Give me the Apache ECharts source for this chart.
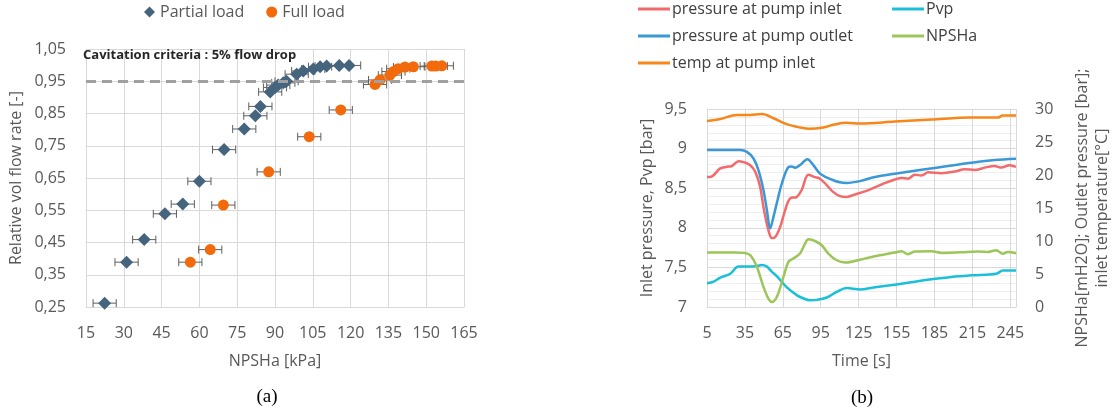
<!DOCTYPE html>
<html>
<head>
<meta charset="utf-8">
<script src="https://cdn.jsdelivr.net/npm/echarts@6/dist/echarts.min.js"></script>
<style>html,body{margin:0;padding:0;background:#fff}#c{width:1116px;height:411px}</style>
</head>
<body>
<div id="c"></div>
<script>
// ---------- (a) NPSHa vs relative flow ----------
const partialX = [22.4, 31.1, 38.1, 46.3, 53.4, 60.0, 69.8, 77.8, 82.2, 84.2, 88.1, 90.0, 91.3, 93.3, 94.6, 98.6, 101.2, 105.2, 107.9, 110.5, 115.5, 119.4];
const partialY = [0.262, 0.389, 0.459, 0.539, 0.569, 0.640, 0.738, 0.802, 0.843, 0.872, 0.917, 0.931, 0.938, 0.945, 0.950, 0.972, 0.982, 0.988, 0.995, 0.997, 0.999, 0.999];
const fullX = [56.4, 64.3, 69.5, 87.5, 103.6, 116.1, 129.7, 131.7, 135.6, 137.0, 138.9, 141.6, 144.9, 152.2, 153.8, 156.2];
const fullY = [0.389, 0.428, 0.566, 0.669, 0.778, 0.861, 0.940, 0.954, 0.969, 0.980, 0.989, 0.994, 0.995, 0.997, 0.997, 0.998];
const xErr = 4.6;            // half-width of horizontal error bars [kPa]
const criteria = 0.95;       // cavitation criteria line
const xTicksA = {min: 15, max: 165, step: 15};
const yTicksA = {min: 0.25, max: 1.05, step: 0.1};

// ---------- (b) time series ----------
const tInlet = [5, 9, 15.5, 20.8, 24.7, 30, 33.9, 39.2, 43.1, 47, 49.7, 53.6, 56.3, 58.9, 62.9, 66.8, 70.7, 76, 80, 85.2, 90.5, 94.4, 99.7, 105, 110.2, 115.5, 122, 130, 137.8, 145, 153.6, 158.9, 164, 169.4, 174.7, 180, 190.6, 201, 208.9, 216.8, 224.7, 232.6, 237.9, 244.4, 249.5];
const pInlet = [8.64, 8.65, 8.75, 8.77, 8.78, 8.84, 8.83, 8.79, 8.71, 8.52, 8.26, 7.97, 7.87, 7.88, 8.01, 8.22, 8.37, 8.39, 8.48, 8.67, 8.64, 8.62, 8.54, 8.45, 8.40, 8.39, 8.42, 8.46, 8.51, 8.56, 8.61, 8.63, 8.62, 8.67, 8.66, 8.70, 8.69, 8.71, 8.74, 8.73, 8.76, 8.78, 8.76, 8.79, 8.77];
const tOutlet = [5, 31.3, 36.6, 41.8, 45.7, 49.7, 52.4, 55, 57.6, 60.2, 64.2, 69.4, 72, 74.7, 78.6, 84.4, 89.1, 94.4, 100, 105, 110, 115.5, 126, 137.8, 153.6, 174.7, 195.7, 214, 232.5, 249.5];
const pOutlet = [23.78, 23.78, 23.5, 22.5, 20.74, 17.7, 14.67, 11.9, 13.66, 15.7, 18.7, 21.2, 21.3, 21.1, 21.5, 22.4, 21.5, 20.2, 19.6, 19.2, 18.9, 18.8, 19.07, 19.7, 20.2, 20.8, 21.35, 21.85, 22.26, 22.46];
const tPvp = [5, 10.3, 15.5, 23.4, 30, 39.2, 45, 48.4, 52.4, 56, 60.2, 68, 76, 81, 86.5, 91.8, 99.7, 107.6, 115.5, 126, 137.8, 153.6, 169.4, 182.6, 198.4, 214.2, 233.9, 239.1, 249.5];
const pPvp = [7.30, 7.32, 7.37, 7.42, 7.51, 7.51, 7.52, 7.53, 7.51, 7.45, 7.39, 7.25, 7.15, 7.11, 7.085, 7.09, 7.12, 7.19, 7.24, 7.22, 7.25, 7.28, 7.32, 7.35, 7.38, 7.40, 7.42, 7.46, 7.46];
const tNpsh = [5, 26, 33.9, 39.2, 44.5, 49.7, 53.6, 56.3, 60.2, 65.5, 69.4, 73.3, 78.6, 82.6, 85.2, 90.5, 95.8, 101, 107.6, 114.2, 122, 137.8, 153.6, 158.9, 164, 169.4, 182.6, 190.6, 206.4, 219.5, 227.5, 233.9, 239.1, 243, 249.5];
const vNpsh = [8.25, 8.25, 8.2, 7.85, 6.07, 3.03, 1.27, 0.76, 1.52, 4.55, 6.83, 7.34, 8.1, 9.6, 10.27, 10.0, 9.36, 8.1, 7.08, 6.73, 6.98, 7.7, 8.25, 8.46, 8.0, 8.4, 8.45, 8.2, 8.3, 8.4, 8.35, 8.6, 8.05, 8.35, 8.15];
const tTemp = [5, 15.5, 28.7, 39, 48.4, 57.6, 68, 78.6, 86.5, 97, 105, 115.5, 126, 153.6, 182.6, 214, 235, 239, 249.5];
const vTemp = [28.18, 28.48, 29.1, 29.1, 29.24, 28.6, 27.7, 27.2, 27.0, 27.2, 27.6, 27.9, 27.8, 28.1, 28.4, 28.7, 28.7, 29.0, 29.0];
const xTicksB = {min: 5, max: 249.5, step: 30};
const yLeftB = {min: 7, max: 9.5, step: 0.5};
const yRightB = {min: 0, max: 30, step: 5};

const FONT = 'Open Sans';
const LBL = '#595959';
const GRID = '#d9d9d9';
const comma = (d) => (v) => (+v.toFixed(d)).toString().replace('.', ',');
const pairs = (xs, ys) => xs.map((x, i) => [x, ys[i]]);
const errData = (xs, ys) => xs.map((x, i) => [x, ys[i], xErr]);

function errRender(params, api) {
  const x = api.value(0), y = api.value(1), e = api.value(2);
  const a = api.coord([x - e, y]), b = api.coord([x + e, y]);
  const h = 4, st = {stroke: '#5f5f5f', lineWidth: 1};
  return {type: 'group', children: [
    {type: 'line', shape: {x1: a[0], y1: a[1], x2: b[0], y2: b[1]}, style: st},
    {type: 'line', shape: {x1: a[0], y1: a[1] - h, x2: a[0], y2: a[1] + h}, style: st},
    {type: 'line', shape: {x1: b[0], y1: b[1] - h, x2: b[0], y2: b[1] + h}, style: st}
  ]};
}

const axLabel = (fmt, margin) => ({color: LBL, fontFamily: FONT, fontSize: 16, margin: margin, formatter: fmt});
const nameStyle = {color: LBL, fontFamily: FONT, fontSize: 16};

const lineSeries = (name, t, v, yIdx, color) => ({
  name, type: 'line', xAxisIndex: 1, yAxisIndex: yIdx, data: pairs(t, v),
  showSymbol: false, symbol: 'none', smooth: 0.35, lineStyle: {color, width: 2.5}, itemStyle: {color}
});

const C_IN = '#f26a6c', C_OUT = '#3b98d6', C_PVP = '#1cbfd8', C_NP = '#9cc65a', C_T = '#f7861b';

const legB = (name, left, top) => ({
  data: [name], left, top, padding: 0, itemWidth: 32, itemHeight: 3, icon: 'rect', itemGap: 0,
  textStyle: {color: '#404040', fontFamily: FONT, fontSize: 16, padding: [0, 0, 0, -3]}
});

const option = {
  animation: false,
  backgroundColor: '#fff',
  legend: [
    {data: ['Partial load', 'Full load'], left: 144, top: 4, padding: 0, itemGap: 22, itemWidth: 11, itemHeight: 11,
     textStyle: {color: LBL, fontFamily: FONT, fontSize: 16}},
    legB('pressure at pump inlet', 638, 1),
    legB('Pvp', 892, 1),
    legB('pressure at pump outlet', 638, 28),
    legB('NPSHa', 892, 28),
    legB('temp at pump inlet', 638, 55)
  ],
  grid: [
    {left: 86, top: 49, width: 378, height: 258, outerBoundsMode: 'none'},
    {left: 707, top: 109, width: 309, height: 198, outerBoundsMode: 'none'}
  ],
  xAxis: [
    {type: 'value', gridIndex: 0, min: xTicksA.min, max: xTicksA.max, interval: xTicksA.step,
     name: 'NPSHa [kPa]', nameLocation: 'middle', nameGap: 46, nameTextStyle: nameStyle,
     axisLine: {lineStyle: {color: GRID}}, axisTick: {show: false},
     axisLabel: axLabel(null, 18), splitLine: {lineStyle: {color: GRID}}},
    {type: 'value', gridIndex: 1, min: xTicksB.min, max: xTicksB.max, interval: xTicksB.step,
     name: 'Time [s]', nameLocation: 'middle', nameGap: 46, nameTextStyle: nameStyle,
     axisLine: {lineStyle: {color: GRID}}, axisTick: {show: false},
     axisLabel: axLabel(null, 18), splitLine: {lineStyle: {color: GRID}}}
  ],
  yAxis: [
    {type: 'value', gridIndex: 0, min: yTicksA.min, max: yTicksA.max, interval: yTicksA.step,
     name: 'Relative vol flow rate [-]', nameLocation: 'middle', nameGap: 62, nameRotate: 90, nameTextStyle: nameStyle,
     axisLine: {show: true, lineStyle: {color: GRID}}, axisTick: {show: false},
     axisLabel: axLabel(comma(2), 20), splitLine: {lineStyle: {color: GRID}}},
    {type: 'value', gridIndex: 1, position: 'left', min: yLeftB.min, max: yLeftB.max, interval: yLeftB.step,
     name: 'Inlet pressure, Pvp [bar]', nameLocation: 'middle', nameGap: 52, nameRotate: 90, nameTextStyle: nameStyle,
     axisLine: {show: false}, axisTick: {show: false},
     axisLabel: axLabel(comma(1), 20), splitLine: {lineStyle: {color: GRID}},
     minorTick: {show: false, splitNumber: 5}, minorSplitLine: {show: true, lineStyle: {color: '#efefef'}}},
    {type: 'value', gridIndex: 1, position: 'right', min: yRightB.min, max: yRightB.max, interval: yRightB.step,
     name: 'NPSHa[mH2O]; Outlet pressure [bar];\ninlet temperature[°C]', nameLocation: 'middle', nameGap: 56, nameRotate: 90,
     nameTextStyle: Object.assign({lineHeight: 20}, nameStyle),
     axisLine: {show: false}, axisTick: {show: false},
     axisLabel: axLabel(null, 19), splitLine: {show: false}}
  ],
  series: [
    {type: 'custom', name: 'errP', xAxisIndex: 0, yAxisIndex: 0, renderItem: errRender, data: errData(partialX, partialY), encode: {x: 0, y: 1}, z: 1, silent: true},
    {type: 'custom', name: 'errF', xAxisIndex: 0, yAxisIndex: 0, renderItem: errRender, data: errData(fullX, fullY), encode: {x: 0, y: 1}, z: 1, silent: true},
    {name: 'Partial load', type: 'scatter', xAxisIndex: 0, yAxisIndex: 0, symbol: 'diamond', symbolSize: 13,
     itemStyle: {color: '#45647e', opacity: 1}, data: pairs(partialX, partialY), z: 3,
     markLine: {silent: true, symbol: 'none', label: {show: false},
       lineStyle: {color: '#a0a0a0', type: [10, 6], width: 3}, data: [{yAxis: criteria}]}},
    {name: 'Full load', type: 'scatter', xAxisIndex: 0, yAxisIndex: 0, symbol: 'circle', symbolSize: 11,
     itemStyle: {color: '#f26a0c', opacity: 1}, data: pairs(fullX, fullY), z: 3},
    lineSeries('pressure at pump inlet', tInlet, pInlet, 1, C_IN),
    lineSeries('Pvp', tPvp, pPvp, 1, C_PVP),
    lineSeries('pressure at pump outlet', tOutlet, pOutlet, 2, C_OUT),
    lineSeries('NPSHa', tNpsh, vNpsh, 2, C_NP),
    lineSeries('temp at pump inlet', tTemp, vTemp, 2, C_T)
  ],
  graphic: [
    {type: 'text', left: 83, top: 49, z: 10, style: {text: 'Cavitation criteria : 5% flow drop', fill: '#262626',
      font: 'bold 13px "Open Sans"'}},
    {type: 'text', x: 267, y: 397, style: {text: '(a)', fill: '#000', font: '19px "Liberation Serif"', align: 'center', verticalAlign: 'middle'}},
    {type: 'text', x: 862, y: 398, style: {text: '(b)', fill: '#000', font: '19px "Liberation Serif"', align: 'center', verticalAlign: 'middle'}}
  ]
};

const chart = echarts.init(document.getElementById('c'), null, {renderer: 'canvas'});
chart.setOption(option);
</script>
</body>
</html>
